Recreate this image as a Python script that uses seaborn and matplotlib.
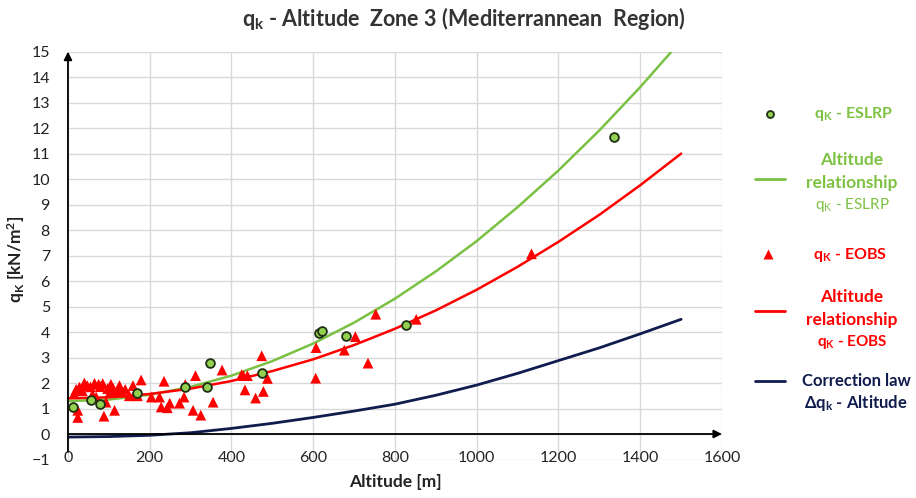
import matplotlib
matplotlib.use("Agg")
import pandas as pd
import matplotlib.pyplot as plt
import seaborn as sns
from matplotlib.lines import Line2D

# q_k - ESLRP points
eslrp_alt = [12, 57, 79, 168, 287, 341, 348, 474, 614, 622, 680, 828, 1335]
eslrp_qk = [1.06, 1.34, 1.16, 1.60, 1.86, 1.86, 2.77, 2.38, 3.97, 4.03, 3.84, 4.27, 11.65]

# q_k - EOBS points
eobs_alt = [15, 20, 24, 24, 28, 35, 40, 47, 55, 60, 65, 69, 75, 79, 85, 88, 93, 97,
            103, 105, 110, 114, 120, 126, 130, 140, 150, 159, 161, 170, 179, 204,
            224, 228, 235, 243, 249, 273, 284, 287, 306, 312, 325, 355, 377, 425,
            429, 433, 439, 459, 474, 478, 488, 606, 607, 676, 703, 734, 753, 852, 1134]
eobs_qk = [1.58, 1.75, 0.93, 0.65, 1.84, 1.70, 2.00, 1.90, 1.85, 1.55, 1.99, 1.45,
           1.95, 1.86, 1.98, 0.70, 1.25, 1.78, 1.64, 1.95, 1.80, 0.93, 1.70, 1.90,
           1.64, 1.75, 1.50, 1.90, 1.51, 1.50, 2.12, 1.45, 1.45, 1.06, 2.07, 1.03,
           1.21, 1.21, 1.45, 1.94, 0.93, 2.29, 0.74, 1.25, 2.51, 2.33, 2.29, 1.73,
           2.29, 1.41, 3.07, 1.67, 2.18, 2.19, 3.39, 3.29, 3.82, 2.78, 4.70, 4.50, 7.07]

# curves read every 100 m
curve_alt = [0, 100, 200, 300, 400, 500, 600, 700, 800, 900, 1000, 1100, 1200, 1300, 1400, 1500]
eslrp_curve = [1.29, 1.35, 1.54, 1.85, 2.29, 2.86, 3.55, 4.37, 5.31, 6.38, 7.57, 8.90, 10.34, 11.91, 13.61, 15.43]
eobs_curve = [1.40, 1.44, 1.57, 1.78, 2.08, 2.47, 2.93, 3.49, 4.13, 4.85, 5.66, 6.56, 7.54, 8.60, 9.76, 11.00]
correction = [-0.12, -0.10, -0.05, 0.05, 0.22, 0.42, 0.65, 0.90, 1.17, 1.52, 1.92, 2.38, 2.88, 3.38, 3.93, 4.50]

green = "#7ac143"
green_txt = "#7dc242"
red = "#ff0000"
navy = "#0f1c4d"

sns.set_style("white")
plt.rcParams["font.family"] = ["Lato", "DejaVu Sans"]
plt.rcParams["mathtext.fontset"] = "custom"
plt.rcParams["mathtext.rm"] = "Lato"
plt.rcParams["mathtext.bf"] = "Lato:bold"
plt.rcParams["mathtext.it"] = "Lato:italic"

curves = pd.DataFrame({"alt": curve_alt, "eslrp": eslrp_curve, "eobs": eobs_curve, "corr": correction})

fig = plt.figure(figsize=(9.16, 4.98), dpi=100)
ax = fig.add_axes([0.0742, 0.0773, 0.714, 0.819])

sns.lineplot(data=curves, x="alt", y="eslrp", color=green, lw=1.8, ax=ax)
sns.lineplot(data=curves, x="alt", y="eobs", color=red, lw=1.8, ax=ax)
sns.lineplot(data=curves, x="alt", y="corr", color=navy, lw=2, ax=ax)
sns.scatterplot(x=eobs_alt, y=eobs_qk, marker="^", s=60, color=red, edgecolor="none", ax=ax, zorder=3)
sns.scatterplot(x=eslrp_alt, y=eslrp_qk, marker="o", s=40, color="#92d050", edgecolor="#1f2f14", linewidth=1.3, ax=ax, zorder=4)

ax.set_xlim(0, 1600)
ax.set_ylim(-1, 15)
ax.set_xticks(range(0, 1601, 200))
ax.set_yticks(range(-1, 16))
ax.grid(color="#d9d9d9", lw=1)
ax.set_axisbelow(True)
for s in ax.spines.values():
    s.set_visible(False)
ax.tick_params(axis="y", length=0, pad=13, labelsize=11.5, labelcolor="#222222")
ax.tick_params(axis="x", length=0, pad=-6, labelsize=11.5, labelcolor="#222222")

# axis arrows
ax.annotate("", xy=(0, 15), xytext=(0, -0.7), annotation_clip=False,
            arrowprops=dict(arrowstyle="-|>", color="black", lw=1.3, mutation_scale=12, shrinkA=0, shrinkB=0))
ax.annotate("", xy=(1600, 0), xytext=(0, 0), annotation_clip=False,
            arrowprops=dict(arrowstyle="-|>", color="black", lw=1.3, mutation_scale=12, shrinkA=0, shrinkB=0))

ax.set_xlabel("Altitude [m]", fontsize=12.5, fontweight="bold", color="#222222", labelpad=6)
ax.set_ylabel(r"q$_\mathbf{K}$ [kN/m$^\mathbf{2}$]", fontsize=12.5, fontweight="bold", color="#222222")
ax.yaxis.set_label_coords(-0.062, 0.49)

fig.text(0.507, 1 - 18 / 498, r"q$_\mathbf{k}$ - Altitude  Zone 3 (Mediterrannean  Region)",
         ha="center", va="center", fontsize=15.5, fontweight="bold", color="#333333")


def fx(px):
    return px / 916


def fy(py):
    return 1 - py / 498


def leg_line(py, color):
    fig.add_artist(Line2D([fx(755), fx(785)], [fy(py), fy(py)], color=color, lw=2, transform=fig.transFigure))


def leg_text(px, py, s, color, weight="bold", size=11.5):
    fig.text(fx(px), fy(py), s, ha="center", va="center", color=color, fontsize=size, fontweight=weight)


fig.add_artist(Line2D([fx(770)], [fy(114)], marker="o", ms=5, mfc="#92d050", mec="#1f2f14", mew=1.3,
                      ls="none", transform=fig.transFigure))
leg_text(854, 114, r"q$_\mathbf{K}$ - ESLRP", green_txt)

leg_line(179, green)
leg_text(852, 160, "Altitude", green_txt, size=12.5)
leg_text(852, 183, "relationship", green_txt, size=12.5)
leg_text(852, 205, r"q$_\mathregular{K}$ - ESLRP", green_txt, weight="normal", size=11)

fig.add_artist(Line2D([fx(768)], [fy(254)], marker="^", ms=7, mfc=red, mec="none",
                      ls="none", transform=fig.transFigure))
leg_text(850, 255, r"q$_\mathbf{K}$ - EOBS", red)

leg_line(311, red)
leg_text(852, 297, "Altitude", red, size=12.5)
leg_text(852, 320, "relationship", red, size=12.5)
leg_text(852, 342, r"q$_\mathbf{K}$ - EOBS", red, size=11)

leg_line(381, navy)
leg_text(856, 381, "Correction law", navy, size=12)
leg_text(856, 403, r"$\mathbf{\Delta}$q$_\mathbf{k}$ - Altitude", navy, size=12)

fig.savefig("out.png", dpi=100)
